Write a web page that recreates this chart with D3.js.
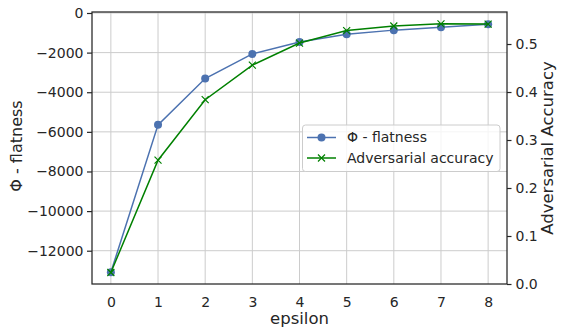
<!DOCTYPE html>
<html><head><meta charset="utf-8">
<script src="https://cdn.jsdelivr.net/npm/d3@7"></script>
<style>body{margin:0;background:#fff}svg{display:block;font-family:"DejaVu Sans",sans-serif}</style>
</head><body><svg id="c" width="564" height="334"></svg>
<script>
const epsilon = [0,1,2,3,4,5,6,7,8];
const flatness = [-13090,-5647,-3310,-2067,-1467,-1075,-865,-720,-565];
const advAcc = [0.024,0.258,0.384,0.456,0.502,0.528,0.5375,0.542,0.5415];
const leftTicks = [0,-2000,-4000,-6000,-8000,-10000,-12000];
const rightTicks = [0.0,0.1,0.2,0.3,0.4,0.5];
const xTicks = [0,1,2,3,4,5,6,7,8];

const svg = d3.select("#c");
const L=92,R=507,T=12,B=284;
const x = d3.scaleLinear().domain([-0.4,8.4]).range([L,R]);
const yL = d3.scaleLinear().domain([-13680,50]).range([B,T]);
const yR = d3.scaleLinear().domain([0,0.5667]).range([B,T]);
const fmt = v => v<0 ? "\u2212"+Math.abs(v) : String(v);

const g = svg.append("g");
g.selectAll(".vg").data(xTicks).join("line").attr("x1",d=>x(d)).attr("x2",d=>x(d)).attr("y1",T).attr("y2",B).attr("stroke","#cccccc").attr("stroke-width",1);
g.selectAll(".hg").data(leftTicks).join("line").attr("x1",L).attr("x2",R).attr("y1",d=>yL(d)).attr("y2",d=>yL(d)).attr("stroke","#cccccc").attr("stroke-width",1);

const axL = d3.axisLeft(yL).tickValues(leftTicks).tickFormat(fmt).tickSize(5).tickPadding(3.5);
const axR = d3.axisRight(yR).tickValues(rightTicks).tickFormat(d3.format(".1f")).tickSize(4.5).tickPadding(4);
const axB = d3.axisBottom(x).tickValues(xTicks).tickSize(0).tickPadding(13.5);
function style(sel){sel.selectAll("text").attr("font-size","14px").attr("fill","#262626").attr("font-family","DejaVu Sans");sel.selectAll("line").attr("stroke","#262626").attr("stroke-width",1.2);sel.select(".domain").remove();}
svg.append("g").attr("transform",`translate(${L},0)`).call(axL).call(style);
svg.append("g").attr("transform",`translate(${R},0)`).call(axR).call(style);
svg.append("g").attr("transform",`translate(0,${B})`).call(axB).call(style);

const lineL = d3.line().x((d,i)=>x(epsilon[i])).y(d=>yL(d));
const lineR = d3.line().x((d,i)=>x(epsilon[i])).y(d=>yR(d));
svg.append("path").attr("d",lineL(flatness)).attr("fill","none").attr("stroke","#4c72b0").attr("stroke-width",1.5);
svg.selectAll(".pb").data(flatness).join("circle").attr("cx",(d,i)=>x(epsilon[i])).attr("cy",d=>yL(d)).attr("r",4).attr("fill","#4c72b0");
svg.append("path").attr("d",lineR(advAcc)).attr("fill","none").attr("stroke","#008000").attr("stroke-width",1.5);
const xm = (cx,cy,s)=>`M${cx-s},${cy-s}L${cx+s},${cy+s}M${cx-s},${cy+s}L${cx+s},${cy-s}`;
svg.selectAll(".px").data(advAcc).join("path").attr("d",(d,i)=>xm(x(epsilon[i]),yR(d),3.5)).attr("stroke","#008000").attr("stroke-width",1.2).attr("fill","none");

svg.append("rect").attr("x",L).attr("y",T).attr("width",R-L).attr("height",B-T).attr("fill","none").attr("stroke","#262626").attr("stroke-width",1.25);

svg.append("text").attr("x",(L+R)/2).attr("y",324).attr("text-anchor","middle").attr("font-size","16.5px").attr("fill","#262626").text("epsilon");
svg.append("text").attr("transform",`translate(22,146) rotate(-90)`).attr("text-anchor","middle").attr("font-size","16px").attr("fill","#262626").text("Φ - flatness");
svg.append("text").attr("transform",`translate(553,${(T+B)/2}) rotate(-90)`).attr("text-anchor","middle").attr("font-size","16.5px").attr("fill","#262626").text("Adversarial Accuracy");

const lg = svg.append("g");
lg.append("rect").attr("x",302.5).attr("y",125).attr("width",197.5).attr("height",46.5).attr("rx",3).attr("fill","#fff").attr("fill-opacity",0.8).attr("stroke","#cccccc").attr("stroke-width",1);
const items=[{t:"Φ - flatness",c:"#4c72b0",m:"o",y:137.5},{t:"Adversarial accuracy",c:"#008000",m:"x",y:158}];
items.forEach(it=>{
  lg.append("line").attr("x1",307).attr("x2",336).attr("y1",it.y).attr("y2",it.y).attr("stroke",it.c).attr("stroke-width",1.5);
  if(it.m==="o") lg.append("circle").attr("cx",321.5).attr("cy",it.y).attr("r",4).attr("fill",it.c);
  else lg.append("path").attr("d",xm(321.5,it.y,3.5)).attr("stroke",it.c).attr("stroke-width",1.2);
  lg.append("text").attr("x",347).attr("y",it.y).attr("dy","0.35em").attr("font-size","14px").attr("fill","#262626").text(it.t);
});
</script></body></html>
